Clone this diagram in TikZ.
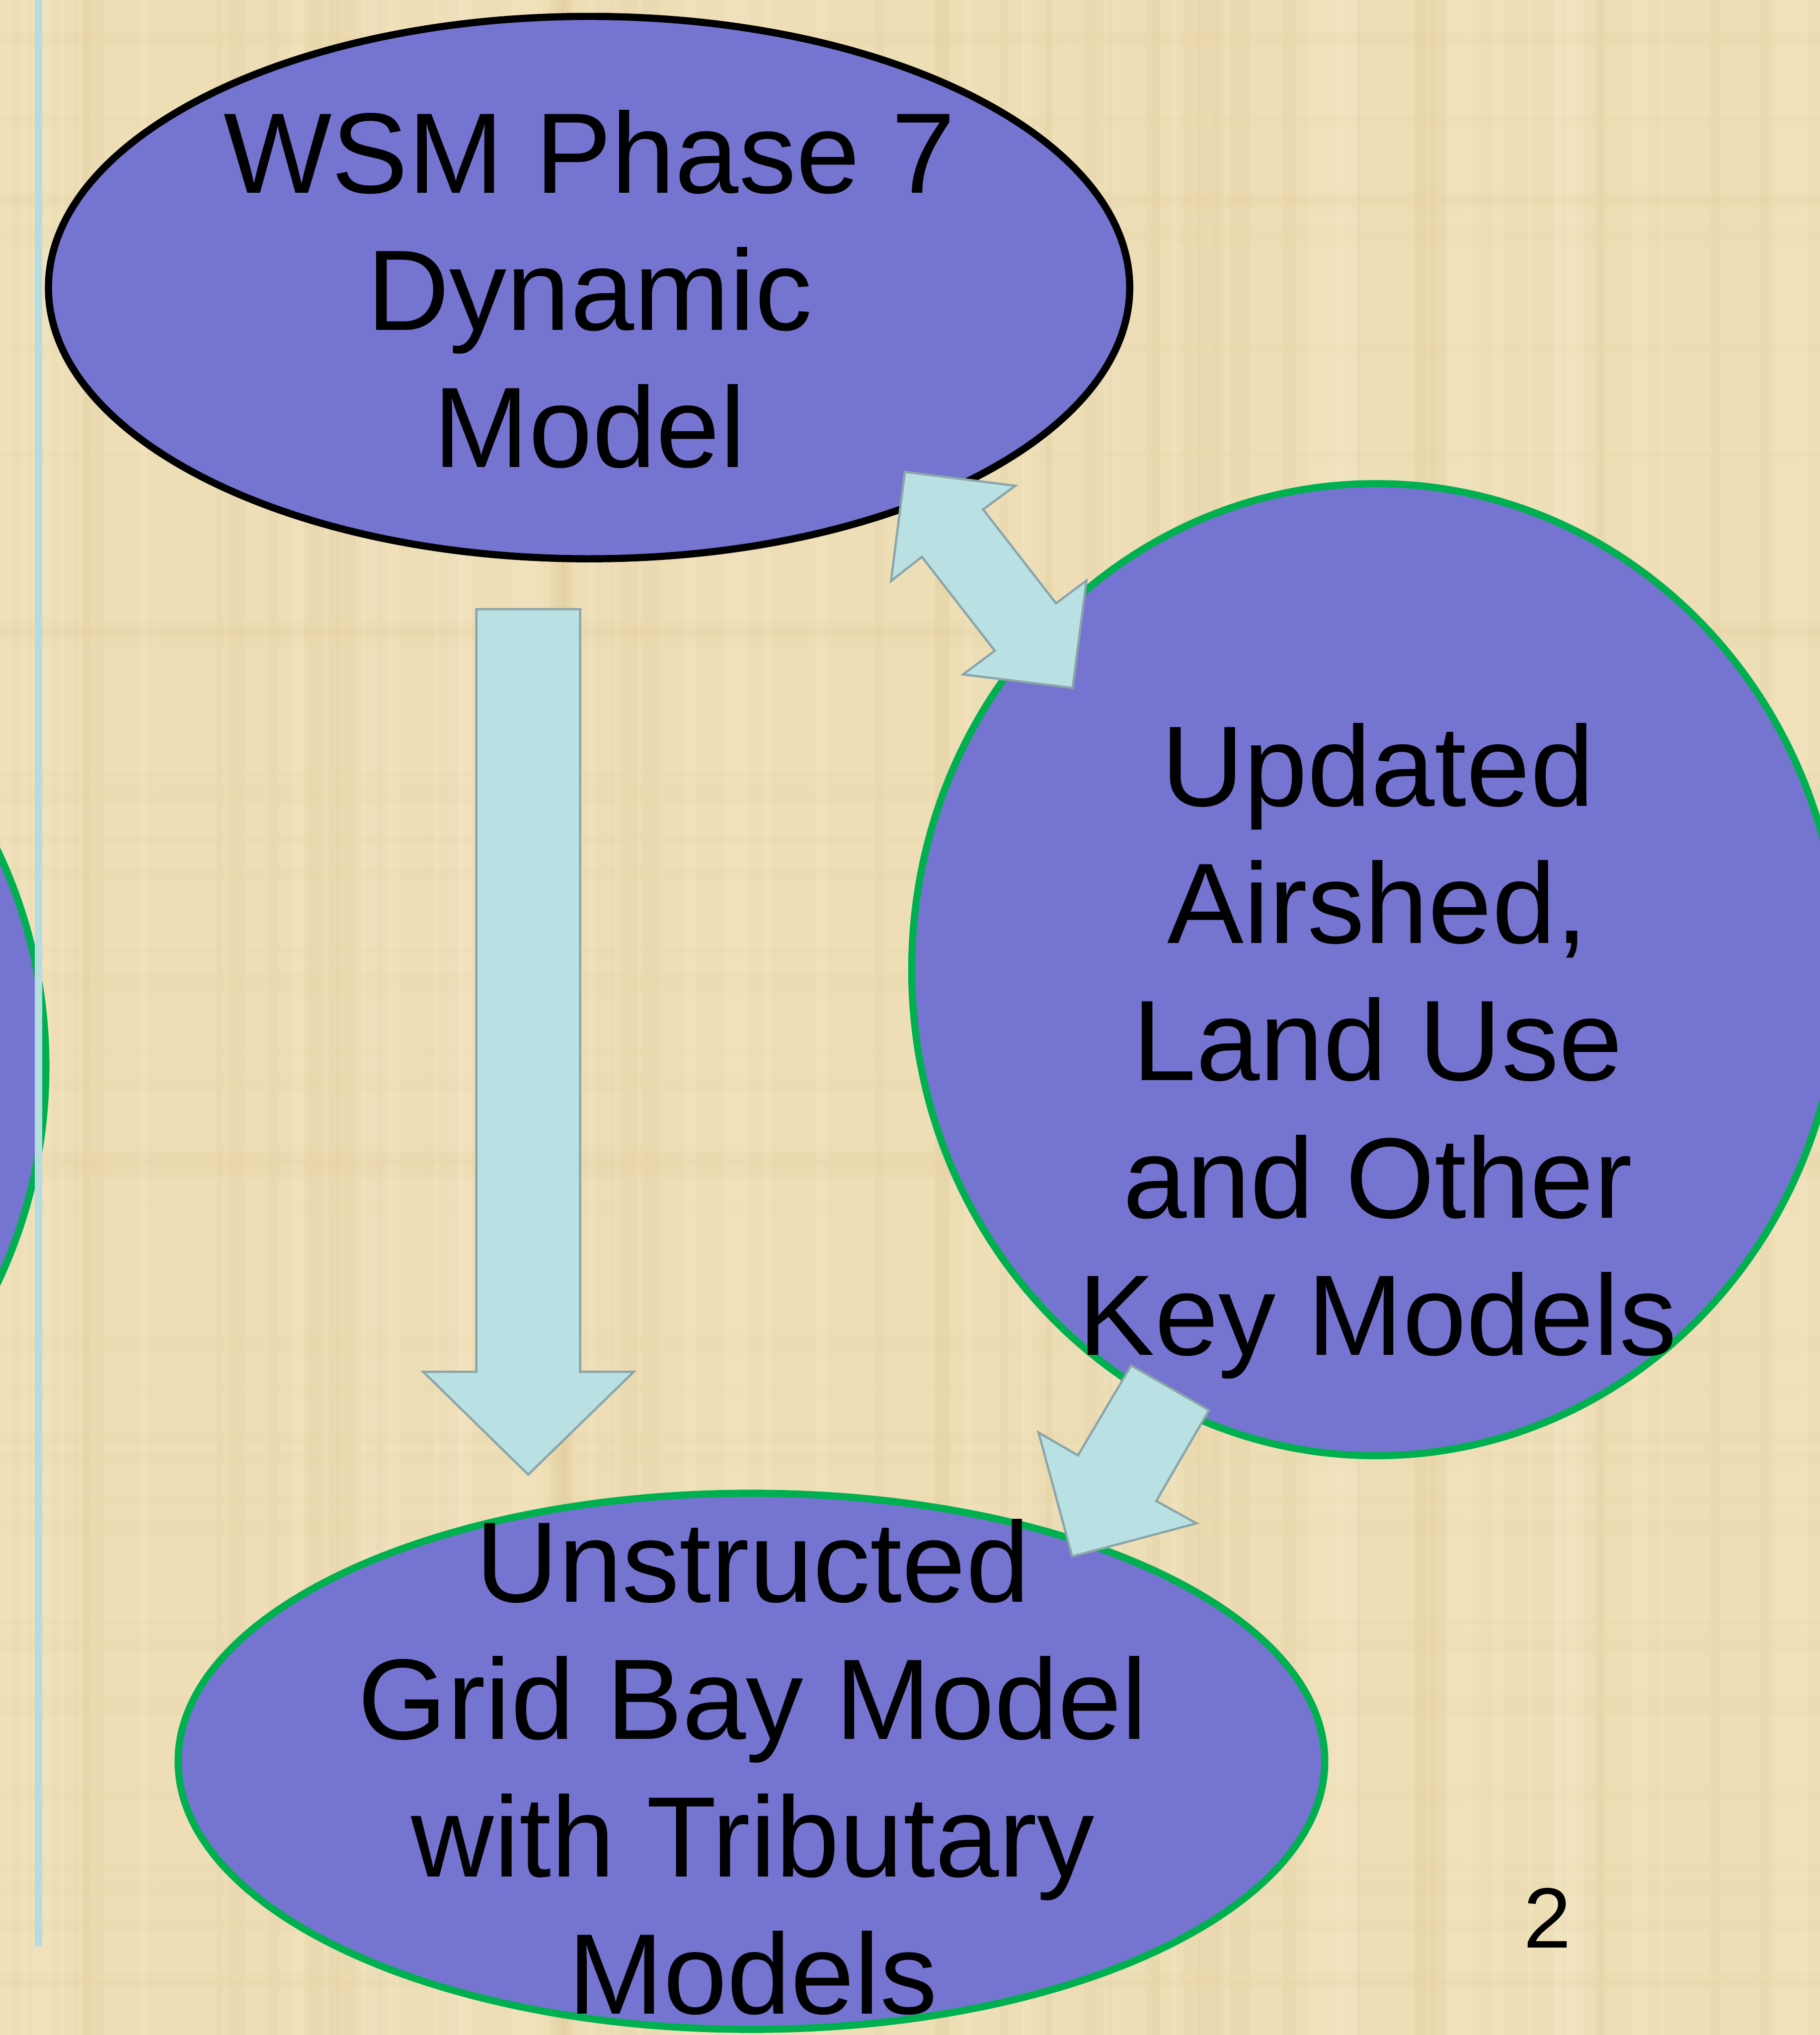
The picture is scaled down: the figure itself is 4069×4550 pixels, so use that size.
\documentclass[tikz,border=0pt]{standalone}
\usepackage{fontspec}
\setmainfont{Liberation Sans}
\usetikzlibrary{shapes.geometric}

\definecolor{paper}{RGB}{238,222,182}
\definecolor{paperdark}{RGB}{222,200,148}
\definecolor{paperlight}{RGB}{246,234,204}
\definecolor{bubblefill}{RGB}{117,116,208}
\definecolor{bubblegreen}{RGB}{0,176,80}
\definecolor{arrowfill}{RGB}{185,224,227}
\definecolor{arrowline}{RGB}{138,166,170}
\definecolor{railblue}{RGB}{180,220,225}

\tikzset{
  bubble/.style={ellipse, fill=bubblefill, line width=0.16cm, inner sep=0pt},
  greenbubble/.style={bubble, draw=bubblegreen},
  blackbubble/.style={bubble, draw=black},
  blockarrow/.style={fill=arrowfill, draw=arrowline, line width=0.05cm, line join=miter},
  bigtext/.style={font=\fontsize{72.8}{87.3}\selectfont, text=black, inner sep=0pt, anchor=base},
  pagenum/.style={font=\fontsize{54.4}{65}\selectfont, text=black, inner sep=0pt, anchor=base}
}

\begin{document}
\begin{tikzpicture}[x=0.01cm, y=-0.01cm]
  % page and paper texture
  \useasboundingbox (0,0) rectangle (4069,4550);
  \clip (0,0) rectangle (4069,4550);
  \fill[paper] (0,0) rectangle (4069,4550);
  \pgfmathsetseed{11}
  \foreach \i in {1,...,60} {
    \pgfmathsetmacro\xx{rnd*4069}
    \pgfmathsetmacro\ww{8+rnd*50}
    \fill[paperdark, opacity=0.14] (\xx,0) rectangle ++(\ww,4550);
  }
  \foreach \i in {1,...,40} {
    \pgfmathsetmacro\xx{rnd*4069}
    \pgfmathsetmacro\ww{10+rnd*60}
    \fill[paperlight, opacity=0.25] (\xx,0) rectangle ++(\ww,4550);
  }
  \foreach \i in {1,...,40} {
    \pgfmathsetmacro\yy{rnd*4550}
    \pgfmathsetmacro\hh{8+rnd*40}
    \fill[paperdark, opacity=0.07] (0,\yy) rectangle ++(4069,\hh);
  }

  % model bubbles
  \node[blackbubble, minimum width=24.16cm, minimum height=12.12cm] (wsm) at (1317,643) {};
  \node[greenbubble, minimum width=20.74cm, minimum height=21.72cm] (airshed) at (3076,2168) {};
  \node[greenbubble, minimum width=20.74cm, minimum height=21.72cm] (leftmodel) at (-935,2385) {};
  \node[greenbubble, minimum width=25.62cm, minimum height=11.98cm] (bay) at (1680,3938) {};

  % labels
  \node[bigtext] (wsmtext) at (1318,431)
    {\begin{tabular}[t]{@{}c@{}}WSM Phase 7\\Dynamic\\Model\end{tabular}};
  \node[bigtext] (airshedtext) at (3080,1802)
    {\begin{tabular}[t]{@{}c@{}}Updated\\Airshed,\\Land Use\\and Other\\Key Models\end{tabular}};
  \node[bigtext] (baytext) at (1683,3582)
    {\begin{tabular}[t]{@{}c@{}}Unstructed\\Grid Bay Model\\with Tributary\\Models\end{tabular}};

  % block arrows between the models
  \draw[blockarrow] (1065,1362) -- (1297,1362) -- (1297,3067) -- (1417,3067)
    -- (1181,3297) -- (946,3067) -- (1065,3067) -- cycle;
  \draw[blockarrow] (2023,1055) -- (2270,1086) -- (2198,1139) -- (2361,1349)
    -- (2429,1298) -- (2398,1538) -- (2153,1508) -- (2224,1455)
    -- (2061,1245) -- (1992,1299) -- cycle;
  \draw[blockarrow] (2529,3053) -- (2703,3153) -- (2585,3356) -- (2675,3406)
    -- (2397,3480) -- (2322,3203) -- (2410,3254) -- cycle;

  % side rule
  \fill[railblue] (78,0) rectangle (94,4352);

  % slide number
  \node[pagenum] (pageno) at (3460,4355) {2};
\end{tikzpicture}
\end{document}
